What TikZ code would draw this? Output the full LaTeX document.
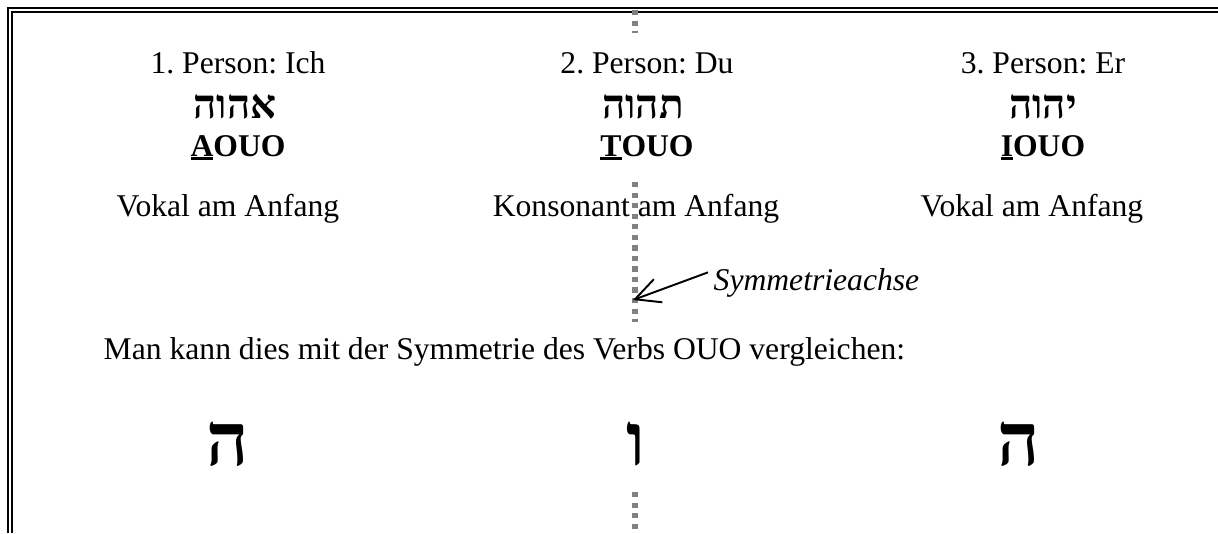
\documentclass[tikz,border=0pt]{standalone}
\usepackage{fontspec}
\setmainfont{Liberation Serif}
\newfontfamily\hebfont[Script=Hebrew]{Liberation Serif}
\TeXXeTstate=1
\frenchspacing
\usetikzlibrary{arrows.meta}
\definecolor{axisgray}{RGB}{128,128,128}
\newcommand{\ulfirst}[1]{\setbox0\hbox{#1}\rlap{\rule[-1.1pt]{\wd0}{0.85pt}}\box0}
\tikzset{
  txt/.style={font=\fontsize{9}{11}\selectfont, inner sep=0pt, anchor=base},
  hebword/.style={font=\fontsize{11.5}{13}\selectfont\hebfont\bfseries, inner sep=0pt, anchor=base},
  hebbig/.style={font=\fontsize{21}{25}\selectfont\hebfont\bfseries, inner sep=0pt, anchor=base},
  axisline/.style={axisgray, line width=1.7pt, dash pattern=on 1.5pt off 1.5pt}
}

\begin{document}
\begin{tikzpicture}
  \useasboundingbox (0,0) rectangle (12.18,5.33);

  % Frame (open at the right and bottom)
  \draw[line width=0.025cm] (0.08,0) -- (0.08,5.25) -- (12.18,5.25);
  \draw[line width=0.02cm] (0.115,0) -- (0.115,5.215) -- (12.18,5.215);

  % Symmetry axis
  \draw[axisline] (6.35,5.23) -- (6.35,5.00);
  \draw[axisline] (6.35,3.51) -- (6.35,2.11);
  \draw[axisline] (6.35,0.41) -- (6.35,0);

  % Headers
  \node[txt] (pers1) at (2.38,4.60) {1. Person: Ich};
  \node[txt] (pers2) at (6.47,4.60) {2. Person: Du};
  \node[txt] (pers3) at (10.43,4.60) {3. Person: Er};

  % Hebrew words
  \node[hebword] (heb1) at (2.35,4.15) {\beginR אהוה\endR};
  \node[hebword] (heb2) at (6.43,4.15) {\beginR תהוה\endR};
  \node[hebword] (heb3) at (10.43,4.15) {\beginR יהוה\endR};

  % Transcriptions
  \node[txt, font=\fontsize{9}{11}\selectfont\bfseries] (tr1) at (2.38,3.77) {\ulfirst{A}OUO};
  \node[txt, font=\fontsize{9}{11}\selectfont\bfseries] (tr2) at (6.47,3.77) {\ulfirst{T}OUO};
  \node[txt, font=\fontsize{9}{11}\selectfont\bfseries] (tr3) at (10.43,3.77) {\ulfirst{I}OUO};

  % First letter
  \node[txt] (kind1) at (2.28,3.17) {Vokal am Anfang};
  \node[txt] (kind2) at (6.36,3.17) {Konsonant am Anfang};
  \node[txt] (kind3) at (10.32,3.17) {Vokal am Anfang};

  % Axis label
  \node[txt, anchor=base west, font=\fontsize{9}{11}\selectfont\itshape] (sym) at (7.13,2.43) {Symmetrieachse};
  \coordinate (axtip) at (6.33,2.33);
  \draw[-{Straight Barb[length=7pt,width=7pt]}, line width=0.55pt] ([xshift=-0.5mm,yshift=-0.5mm]sym.north west) -- (axtip);

  % Comparison
  \node[txt, anchor=base west] (cmp) at (1.03,1.74) {Man kann dies mit der Symmetrie des Verbs OUO vergleichen:};
  \node[hebbig] (he1) at (2.28,0.68) {ה};
  \node[hebbig] (vav) at (6.36,0.68) {ו};
  \node[hebbig] (he2) at (10.19,0.68) {ה};
\end{tikzpicture}
\end{document}
